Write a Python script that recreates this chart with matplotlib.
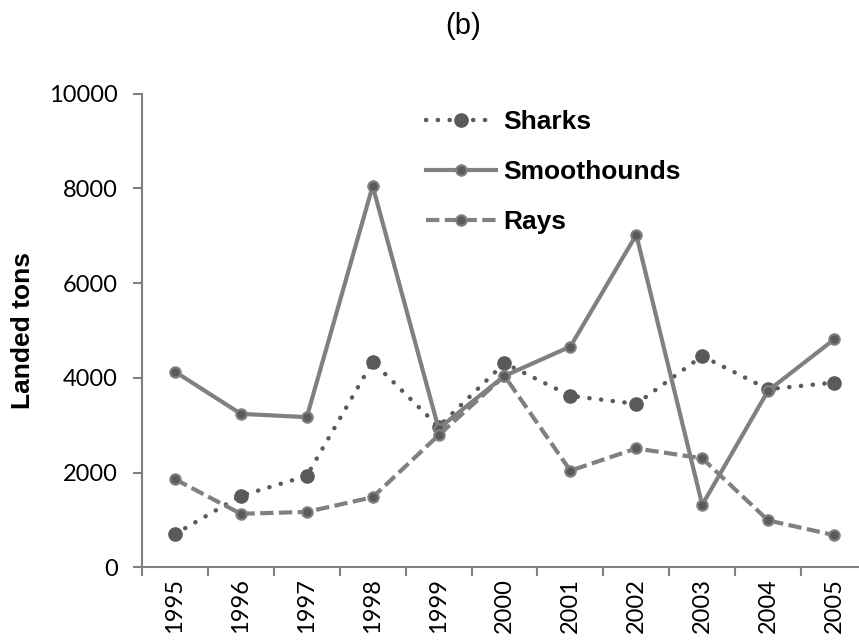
import matplotlib
matplotlib.use('Agg')
import matplotlib.pyplot as plt
import numpy as np

plt.rcParams['font.family'] = ['Liberation Sans', 'DejaVu Sans']

years = ['1995', '1996', '1997', '1998', '1999', '2000', '2001', '2002', '2003', '2004', '2005']
sharks = [700, 1510, 1930, 4340, 2970, 4310, 3620, 3450, 4460, 3760, 3900]
smoothhounds = [4130, 3240, 3170, 8050, 2930, 4040, 4660, 7020, 1320, 3730, 4810]
rays = [1860, 1130, 1170, 1480, 2790, 4040, 2040, 2510, 2300, 990, 680]

line_grey = '#808080'
dark_grey = '#5a5a5a'

fig = plt.figure(figsize=(8.59, 6.43), dpi=100)
ax = fig.add_axes([0.1653, 0.1177, 0.8440, 0.7367])

x = np.arange(len(years))
ax.plot(x, sharks, linestyle=(0, (0.05, 2.6)), dash_capstyle='round', color=dark_grey, lw=3.2,
        marker='o', ms=9.5, mfc=dark_grey, mec=dark_grey, label='Sharks')
ax.plot(x, smoothhounds, linestyle='-', color=line_grey, lw=3,
        marker='o', ms=7.5, mfc=dark_grey, mec=line_grey, mew=1.5, label='Smoothounds')
ax.plot(x, rays, linestyle=(0, (3.2, 1.3)), color=line_grey, lw=3,
        marker='o', ms=7.5, mfc=dark_grey, mec=line_grey, mew=1.5, label='Rays')

ax.set_xlim(-0.5, len(years) - 0.5)
ax.set_ylim(0, 10000)
ax.set_yticks(np.arange(0, 10001, 2000))
# category boundaries carry the tick marks, category centres carry the labels
ax.set_xticks(np.arange(-0.5, len(years), 1.0))
ax.set_xticklabels([])
ax.set_xticks(x, minor=True)
ax.set_xticklabels(years, minor=True, rotation=90, fontsize=17, family='Lato')
ax.tick_params(axis='x', which='minor', length=0, pad=8)
ax.tick_params(axis='x', which='major', length=6.5, width=1.5, color=line_grey, direction='out')
ax.tick_params(axis='y', length=6.5, width=1.5, color=line_grey, labelsize=17, pad=11)
for lbl in ax.get_yticklabels():
    lbl.set_family('Lato')

for side in ['top', 'right']:
    ax.spines[side].set_visible(False)
for side in ['left', 'bottom']:
    ax.spines[side].set_color(line_grey)
    ax.spines[side].set_linewidth(1.5)

fig.text(23 / 859, 0.1177 + 0.7367 / 2, 'Landed tons', fontsize=19, fontweight='bold',
         rotation=90, ha='center', va='center')
fig.text(463 / 859, 1 - 26 / 643, '(b)', fontsize=21, ha='center', va='center')

fig.legend(loc='upper left', bbox_to_anchor=(426 / 859, 0.829), frameon=False,
           prop={'size': 19, 'weight': 'bold'}, handlelength=2.65, handletextpad=0.27,
           labelspacing=0.99, borderpad=0, borderaxespad=0)

fig.savefig('out.png', dpi=100)
